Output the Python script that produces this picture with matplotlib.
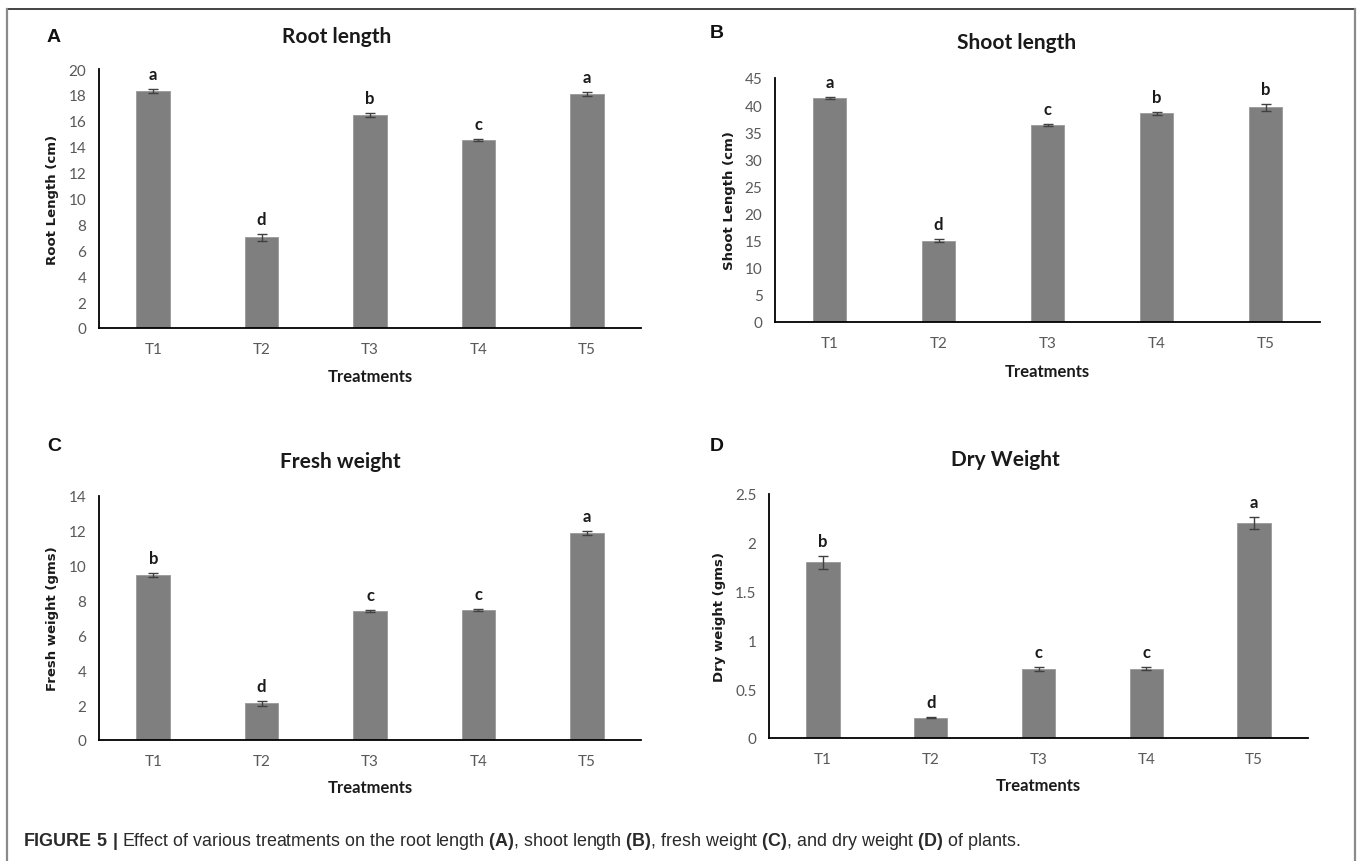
import matplotlib
matplotlib.use("Agg")
import matplotlib.pyplot as plt
from matplotlib.lines import Line2D

# ---------------- data ----------------
treatments = ["T1", "T2", "T3", "T4", "T5"]

root_length = [18.3, 7.0, 16.45, 14.5, 18.1]
root_err = [0.15, 0.25, 0.18, 0.08, 0.15]
root_letters = ["a", "d", "b", "c", "a"]

shoot_length = [41.3, 15.0, 36.3, 38.5, 39.6]
shoot_err = [0.2, 0.25, 0.2, 0.25, 0.6]
shoot_letters = ["a", "d", "c", "b", "b"]

fresh_weight = [9.45, 2.1, 7.4, 7.45, 11.9]
fresh_err = [0.12, 0.15, 0.04, 0.07, 0.12]
fresh_letters = ["b", "d", "c", "c", "a"]

dry_weight = [1.8, 0.21, 0.71, 0.71, 2.2]
dry_err = [0.065, 0.01, 0.02, 0.015, 0.06]
dry_letters = ["b", "d", "c", "c", "a"]

W, H = 1360, 862
plt.rcParams["mathtext.fontset"] = "custom"
plt.rcParams["mathtext.rm"] = "Liberation Sans"
plt.rcParams["mathtext.bf"] = "Liberation Sans:bold"

fig = plt.figure(figsize=(W / 100, H / 100), dpi=100)


def px(x):
    return x / W


def py(y):
    return 1 - y / H


BAR = "#7f7f7f"
TICK = "#595959"
FONT = "Lato"

panels = [
    dict(box=(99, 641, 70, 329), vals=root_length, err=root_err, let=root_letters,
         ymax=20, step=2, title="Root length", ylabel="Root Length (cm)",
         tpos=(337, 37), panel="A", ppos=(54, 37), ylx=53, xly=377),
    dict(box=(775, 1320, 79, 323), vals=shoot_length, err=shoot_err, let=shoot_letters,
         ymax=45, step=5, title="Shoot length", ylabel="Shoot Length (cm)",
         tpos=(1017, 43), panel="B", ppos=(717, 33), ylx=730, xly=372),
    dict(box=(99, 641, 497, 741), vals=fresh_weight, err=fresh_err, let=fresh_letters,
         ymax=14, step=2, title="Fresh weight", ylabel="Fresh weight (gms)",
         tpos=(340, 462), panel="C", ppos=(54, 447), ylx=53, xly=788),
    dict(box=(769, 1308, 495, 739), vals=dry_weight, err=dry_err, let=dry_letters,
         ymax=2.5, step=0.5, title="Dry Weight", ylabel="Dry weight (gms)",
         tpos=(1005, 460), panel="D", ppos=(717, 447), ylx=720, xly=786),
]

for p in panels:
    l, r, t, b = p["box"]
    ax = fig.add_axes([px(l), py(b), (r - l) / W, (b - t) / H])
    x = range(len(treatments))
    ax.bar(x, p["vals"], width=0.31, color=BAR, edgecolor="#9a9a9a", linewidth=0.6, zorder=2)
    ax.errorbar(x, p["vals"], yerr=p["err"], fmt="none", ecolor="#404040",
                elinewidth=1.0, capsize=3.5, capthick=1.0, zorder=3)
    for xi, v, e, s in zip(x, p["vals"], p["err"], p["let"]):
        ax.annotate(s, (xi, v + e), xytext=(0, 5), textcoords="offset points",
                    ha="center", va="bottom", fontsize=12, fontweight="bold",
                    family=FONT, color="#1a1a1a")
    ax.set_xlim(-0.5, len(treatments) - 0.5)
    ax.set_ylim(0, p["ymax"])
    n = int(round(p["ymax"] / p["step"]))
    ticks = [i * p["step"] for i in range(n + 1)]
    ax.set_yticks(ticks)
    ax.set_yticklabels(["{:g}".format(round(tv, 2)) for tv in ticks])
    ax.set_xticks(list(x))
    ax.set_xticklabels(treatments)
    for s in ["top", "right"]:
        ax.spines[s].set_visible(False)
    for s in ["left", "bottom"]:
        ax.spines[s].set_color("black")
        ax.spines[s].set_linewidth(1.3)
    ax.tick_params(axis="both", length=0, labelcolor=TICK, labelsize=11)
    ax.tick_params(axis="x", pad=10)
    ax.tick_params(axis="y", pad=9)
    for lab in ax.get_xticklabels() + ax.get_yticklabels():
        lab.set_family(FONT)
    ax.set_xlabel("Treatments", fontsize=12, fontweight="bold", family=FONT, color="#1a1a1a")
    ax.xaxis.label.set_va("center")
    ax.xaxis.set_label_coords(0.5, -(p["xly"] - b) / (b - t))
    ax.set_ylabel(p["ylabel"], fontsize=9.5, fontweight="bold", family="DejaVu Sans", color="#1a1a1a")
    ax.yaxis.label.set_va("center")
    ax.yaxis.set_label_coords(-(l - p["ylx"]) / (r - l), 0.5)
    fig.text(px(p["tpos"][0]), py(p["tpos"][1]), p["title"], ha="center", va="center",
             fontsize=15, fontweight="bold", family=FONT, color="#1a1a1a")
    fig.text(px(p["ppos"][0]), py(p["ppos"][1]), p["panel"], ha="center", va="center",
             fontsize=14, fontweight="bold", family="Liberation Sans", color="#111111")

# border lines
fig.add_artist(Line2D([px(7), px(1355)], [py(10), py(10)], color="#222222", lw=1.2))
fig.add_artist(Line2D([px(7), px(7)], [py(10), py(H + 2)], color="#8a8a8a", lw=1.6))
fig.add_artist(Line2D([px(1355), px(1355)], [py(10), py(H + 2)], color="#8a8a8a", lw=1.6))

caption = (r"$\mathbf{FIGURE\ 5\ |}$ Effect of various treatments on the root length "
           r"$\mathbf{(A)}$, shoot length $\mathbf{(B)}$, fresh weight $\mathbf{(C)}$, "
           r"and dry weight $\mathbf{(D)}$ of plants.")
cap_left, cap_right = 23, 1020
cap = fig.text(px(cap_left), py(842), caption, ha="left", va="center", fontsize=12,
               family="Liberation Sans", color="#2a2a2a")
renderer = fig.canvas.get_renderer()
wpx = cap.get_window_extent(renderer=renderer).width
cap.set_fontsize(12 * (cap_right - cap_left) / wpx)

fig.savefig("out.png", dpi=100, facecolor="white")
